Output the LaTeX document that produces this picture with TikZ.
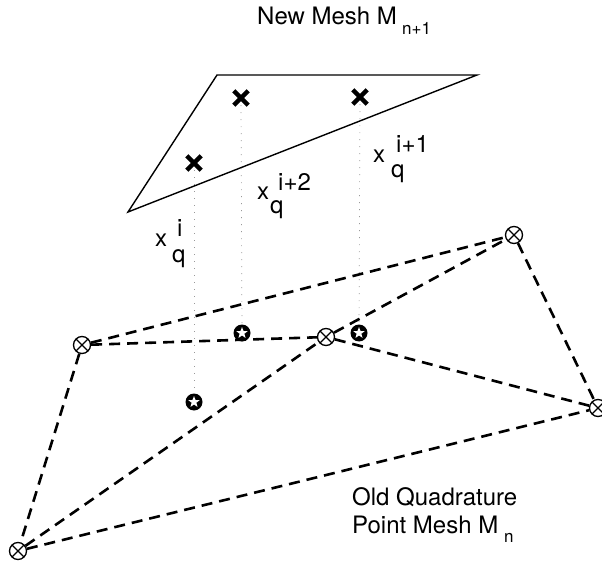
\documentclass[tikz,border=0pt]{standalone}
\usepackage{fontspec}
\setmainfont{TeX Gyre Heros}
\usetikzlibrary{shapes.geometric,shapes.misc}
\tikzset{
  lbl/.style={anchor=base west,inner sep=0pt,font=\fontsize{24}{28}\selectfont},
  sublbl/.style={anchor=base west,inner sep=0pt,font=\fontsize{17}{20}\selectfont},
  newpt/.style={cross out,draw,line width=4.4pt,minimum size=10pt,inner sep=0pt},
  oldpt/.style={circle,draw,line width=1.3pt,minimum size=17pt,inner sep=0pt,
    path picture={\draw[line width=1.3pt] (path picture bounding box.north west) -- (path picture bounding box.south east)
      (path picture bounding box.north east) -- (path picture bounding box.south west);}},
  starpt/.style={circle,fill=black,minimum size=17pt,inner sep=0pt,
    path picture={\node[star,star points=5,star point ratio=2.4,fill=white,minimum size=12pt,inner sep=0pt] at (path picture bounding box.center) {};}},
  meshedge/.style={line width=2.6pt,dash pattern=on 11pt off 7pt},
  proj/.style={gray!80,line width=0.7pt,dash pattern=on 1pt off 6pt},
  tri/.style={line width=1.4pt,line join=miter}
}
\begin{document}
\begin{tikzpicture}[x=1pt,y=-1pt]
\useasboundingbox (0,0) rectangle (602,561);
% new mesh triangle
\coordinate (t1) at (217,75);
\coordinate (t2) at (477,75);
\coordinate (t3) at (128,212);
\draw[tri] (t1) -- (t2) -- (t3) -- cycle;
% new quadrature points
\node[newpt] (c1) at (194,163) {};
\node[newpt] (c2) at (241,98) {};
\node[newpt] (c3) at (360,97) {};
% old mesh points
\node[oldpt] (A) at (82,345) {};
\node[oldpt] (B) at (326,337) {};
\node[oldpt] (C) at (514,235) {};
\node[oldpt] (D) at (598,408) {};
\node[oldpt] (E) at (18,551) {};
% old quadrature points
\node[starpt] (s1) at (194,402) {};
\node[starpt] (s2) at (242,333) {};
\node[starpt] (s3) at (359,333) {};
% projections
\draw[proj] (c1) -- (s1);
\draw[proj] (c2) -- (s2);
\draw[proj] (c3) -- (s3);
% dashed mesh edges
\draw[meshedge] (A) -- (C);
\draw[meshedge] (A) -- (B);
\draw[meshedge] (B) -- (C);
\draw[meshedge] (E) -- (B);
\draw[meshedge] (B) -- (D);
\draw[meshedge] (C) -- (D);
\draw[meshedge] (A) -- (E);
\draw[meshedge] (E) -- (D);
% labels
\node[lbl] (l1x) at (155,247) {x};
\node[lbl] (l1s) at (177,237) {i};
\node[lbl] (l1q) at (172,262) {q};
\node[lbl] (l2x) at (257,200) {x};
\node[lbl] (l2s) at (278,191) {i+2};
\node[lbl] (l2q) at (270,214) {q};
\node[lbl] (l3x) at (373,163) {x};
\node[lbl] (l3s) at (396,153) {i+1};
\node[lbl] (l3q) at (391,178) {q};
% titles
\node[lbl] (title) at (257,25) {New Mesh M};
\node[sublbl] (titlesub) at (402,35) {n+1};
\node[lbl] (old1) at (352,505) {Old Quadrature};
\node[lbl] (old2) at (352,533) {Point Mesh M};
\node[sublbl] (old2sub) at (504,542) {n};
\end{tikzpicture}
\end{document}
